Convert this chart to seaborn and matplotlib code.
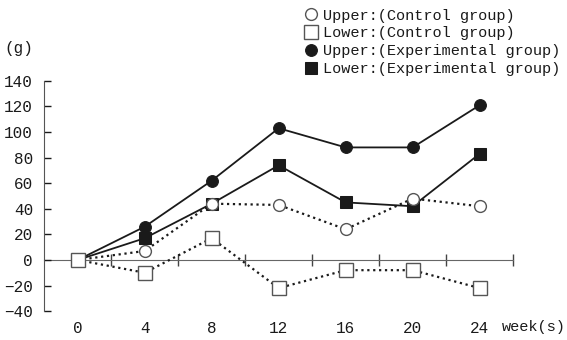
import pandas as pd
import matplotlib
matplotlib.use("Agg")
import matplotlib.pyplot as plt
import seaborn as sns

# data
weeks = [0, 4, 8, 12, 16, 20, 24]
upper_control = [0, 7, 44, 43, 24, 48, 42]
lower_control = [0, -10, 17, -22, -8, -8, -22]
upper_exp = [0, 26, 62, 103, 88, 88, 121]
lower_exp = [0, 17, 44, 74, 45, 42, 83]
y_ticks = [-40, -20, 0, 20, 40, 60, 80, 100, 120, 140]
axis_ticks = [2, 6, 10, 14, 18, 22, 26]

sns.set_style("ticks")
plt.rcParams['font.family'] = ['Liberation Mono', 'DejaVu Sans']
ink = '#1a1a1a'

fig = plt.figure(figsize=(5.67, 3.4), dpi=100)
ax = fig.add_axes([0.078, 0.085, 0.827, 0.677])

# experimental groups first, control groups drawn on top
sns.lineplot(x=weeks, y=upper_exp, ax=ax, color=ink, lw=1.3, marker='o', markersize=8.5,
             markerfacecolor=ink, markeredgecolor=ink, label='Upper:(Experimental group)')
sns.lineplot(x=weeks, y=lower_exp, ax=ax, color=ink, lw=1.3, marker='s', markersize=9,
             markerfacecolor=ink, markeredgecolor=ink, label='Lower:(Experimental group)')
sns.lineplot(x=weeks, y=upper_control, ax=ax, color=ink, lw=1.6, ls=':', marker='o', markersize=8.5,
             markerfacecolor='white', markeredgecolor='#555555', markeredgewidth=1.0,
             label='Upper:(Control group)')
sns.lineplot(x=weeks, y=lower_control, ax=ax, color=ink, lw=1.6, ls=':', marker='s', markersize=9.5,
             markerfacecolor='white', markeredgecolor='#555555', markeredgewidth=1.0,
             label='Lower:(Control group)')

ax.set_xlim(-2, 26)
ax.set_ylim(-40, 140)
ax.set_yticks(y_ticks)
ax.tick_params(axis='y', direction='in', length=5, width=1, colors=ink, labelsize=11.5, pad=8)
ax.spines['left'].set_color('#555555')
for s in ['top', 'right', 'bottom']:
    ax.spines[s].set_visible(False)

# week labels under the plot
ax.set_xticks(weeks)
ax.tick_params(axis='x', length=0, labelsize=11.5, colors=ink, pad=7)

# zero line with its own ticks between the weeks
zero = ax.secondary_xaxis(40 / 180)
zero.set_xticks(axis_ticks)
zero.set_xticklabels([])
zero.tick_params(direction='inout', length=9, width=1, colors='#444444')
zero.spines['bottom'].set_color('#666666')

fig.text(0.998, 0.038, 'week(s)', fontsize=11, color=ink, ha='right', va='center')
fig.text(0.008, 0.858, '(g)', fontsize=11.5, color=ink, ha='left', va='center')

handles, labels = ax.get_legend_handles_labels()
order = [2, 3, 0, 1]
leg = fig.legend([handles[i] for i in order], [labels[i] for i in order],
                 loc='upper right', bbox_to_anchor=(1.012, 1.015), frameon=False,
                 fontsize=11, labelspacing=0.25, handlelength=1.0, handletextpad=0.3)
for h in leg.legend_handles:
    h.set_linestyle('None')
for t in leg.get_texts():
    t.set_color(ink)
if ax.get_legend():
    ax.get_legend().remove()

fig.savefig('out.png', dpi=100)
